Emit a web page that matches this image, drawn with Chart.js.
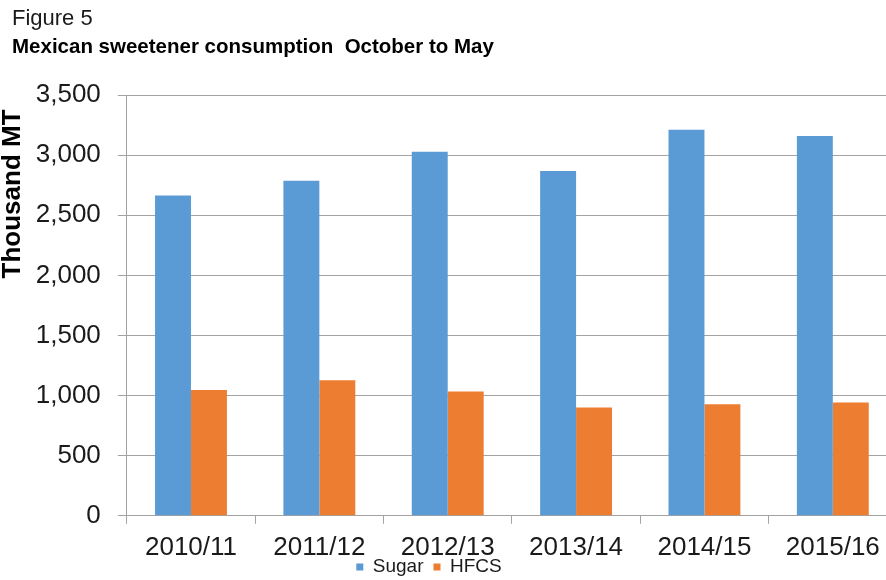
<!DOCTYPE html>
<html>
<head>
<meta charset="utf-8">
<title>Mexican sweetener consumption</title>
<script src="https://cdn.jsdelivr.net/npm/chart.js@4.4.1/dist/chart.umd.min.js"></script>
<style>
  html, body { margin: 0; padding: 0; background: #fff; overflow: hidden; }
  #wrap { position: relative; width: 897px; height: 580px; }
</style>
</head>
<body>
<div id="wrap"><canvas id="sweetenerChart"></canvas></div>
<script>
(function () {
    "use strict";

    var seasons = ["2010/11", "2011/12", "2012/13", "2013/14", "2014/15", "2015/16"];
    var sugar = [2665, 2787, 3028, 2867, 3211, 3158];
    var hfcs = [1047, 1128, 1033, 900, 928, 942];
    var yTicks = [0, 500, 1000, 1500, 2000, 2500, 3000, 3500];

    Chart.defaults.font.family = "'Liberation Sans', Arial, sans-serif";
    Chart.defaults.color = "#1a1a1a";

    var gridGrey = "#a3a3a3";

    // legend is tucked right under the category labels, like the original
    var legendSpot = {
        id: "legendSpot",
        afterLayout: function (chart) {
            var lg = chart.legend;
            if (!lg) return;
            var dx = 429 - (lg.left + lg.right) / 2;
            lg.left += dx;
            lg.right += dx;
            lg.top = 547.5;
            lg.bottom = 580;
            lg.height = lg.bottom - lg.top;
        }
    };

    var ctx = document.getElementById("sweetenerChart");
    var myChart = new Chart(ctx, {
        type: "bar",
        data: {
            labels: seasons,
            datasets: [
                {
                    label: "Sugar",
                    data: sugar,
                    backgroundColor: "#5B9BD5",
                    borderWidth: 0
                },
                {
                    label: "HFCS",
                    data: hfcs,
                    backgroundColor: "#ED7D31",
                    borderWidth: 0
                }
            ]
        },
        options: {
            responsive: true,
            maintainAspectRatio: false,
            animation: false,
            categoryPercentage: 0.56,
            barPercentage: 1.0,
            layout: {
                padding: { left: 12, right: 0, top: 0, bottom: 8 }
            },
            plugins: {
                title: {
                    display: true,
                    text: "Figure 5",
                    align: "start",
                    color: "#1a1a1a",
                    font: { size: 22, weight: "normal" },
                    padding: { top: 5.6, bottom: 2.9 }
                },
                subtitle: {
                    display: true,
                    text: "Mexican sweetener consumption  October to May",
                    align: "start",
                    color: "#000",
                    font: { size: 20.5, weight: "bold" },
                    padding: { top: 0, bottom: 35.5 }
                },
                legend: {
                    position: "bottom",
                    maxHeight: 1,
                    labels: {
                        boxWidth: 7,
                        boxHeight: 7,
                        padding: 10,
                        color: "#1a1a1a",
                        font: { size: 19 }
                    }
                },
                tooltip: { enabled: false }
            },
            scales: {
                x: {
                    grid: {
                        display: true,
                        drawOnChartArea: false,
                        drawTicks: true,
                        tickLength: 8,
                        color: gridGrey,
                        offset: true
                    },
                    border: { display: true, color: gridGrey },
                    ticks: {
                        font: { size: 26 },
                        padding: 8,
                        maxRotation: 0,
                        autoSkip: false
                    }
                },
                y: {
                    min: 0,
                    max: 3500,
                    afterBuildTicks: function (axis) {
                        axis.ticks = yTicks.map(function (v) { return { value: v }; });
                    },
                    grid: { color: gridGrey, tickLength: 9 },
                    border: { display: true, color: gridGrey },
                    ticks: {
                        font: { size: 26 },
                        padding: 17,
                        callback: function (v) { return v.toLocaleString("en-US"); }
                    },
                    title: {
                        display: true,
                        text: "Thousand MT  ",
                        align: "end",
                        color: "#000",
                        font: { size: 26, weight: "bold", lineHeight: 0.04 },
                        padding: { top: 0, bottom: 5.7 }
                    }
                }
            }
        },
        plugins: [legendSpot]
    });

})();
</script>
</body>
</html>
